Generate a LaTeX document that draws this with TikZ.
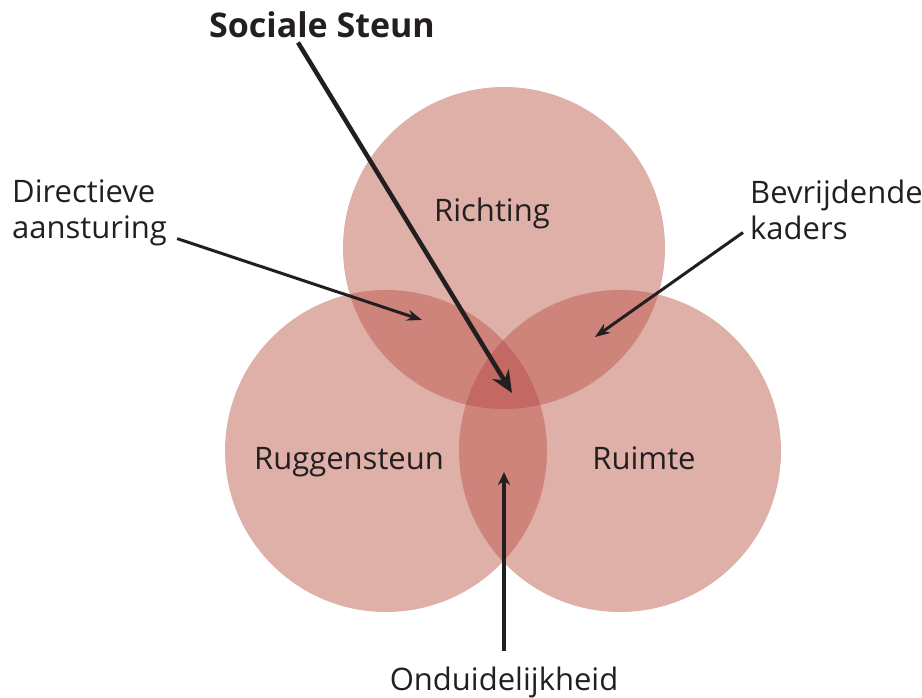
\documentclass[tikz,border=0pt]{standalone}
\usepackage{fontspec}
\setmainfont{Open Sans}
\usetikzlibrary{arrows.meta}
\definecolor{cirkel}{RGB}{222,176,168}
\definecolor{twee}{RGB}{206,131,123}
\definecolor{drie}{RGB}{196,104,100}
\definecolor{tekst}{RGB}{35,31,32}

\begin{document}
\begin{tikzpicture}[x=1pt,y=1pt,
  lbl/.style={inner sep=0pt,text=tekst,font=\fontsize{31}{36}\selectfont},
  pijl/.style={draw=tekst,line width=3pt,-{Stealth[length=15pt,width=11pt]}}]
\useasboundingbox (0,0) rectangle (922,697);
\coordinate (richting) at (504,449);
\coordinate (rug) at (386,246);
\coordinate (ruimte) at (620,246);
% cirkels
\fill [cirkel] (richting) circle (161pt);
\fill [cirkel] (rug) circle (161pt);
\fill [cirkel] (ruimte) circle (161pt);
\begin{scope}
\clip (richting) circle (161pt);
\fill [twee] (rug) circle (161pt);
\fill [twee] (ruimte) circle (161pt);
\end{scope}
\begin{scope}
\clip (rug) circle (161pt);
\fill [twee] (ruimte) circle (161pt);
\end{scope}
\begin{scope}
\clip (richting) circle (161pt);
\clip (rug) circle (161pt);
\fill [drie] (ruimte) circle (161pt);
\end{scope}
% teksten
\node [lbl,anchor=base] (tr) at (492,475) {Richting};
\node [lbl,anchor=base] (tg) at (349,227) {Ruggensteun};
\node [lbl,anchor=base] (tm) at (644,227) {Ruimte};
\node [lbl,anchor=base,font=\bfseries\fontsize{34}{36}\selectfont] (soc) at (322,659) {Sociale Steun};
\node [lbl,anchor=base west,align=left] (dir) at (12,458) {Directieve\\aansturing};
\node [lbl,anchor=base west,align=left] (bev) at (750,457) {Bevrijdende\\kaders};
\node [lbl,anchor=base] (ond) at (504,7) {Onduidelijkheid};
% pijlen
\coordinate (pdir) at (422,377);
\coordinate (pbev) at (595,360);
\coordinate (psoc) at (512,304);
\coordinate (pond) at (504,225);
\draw [pijl,line width=4.5pt,-{Stealth[length=22pt,width=19pt]}] ([xshift=-24pt,yshift=-4pt]soc.south) -- (psoc);
\draw [pijl] ([xshift=10pt,yshift=8pt]dir.south east) -- (pdir);
\draw [pijl] ([xshift=-7pt,yshift=8pt]bev.south west) -- (pbev);
\draw [pijl,line width=3.5pt,-{Stealth[length=13pt,width=12pt]}] ([yshift=15pt]ond.north) -- (pond);
\end{tikzpicture}
\end{document}
